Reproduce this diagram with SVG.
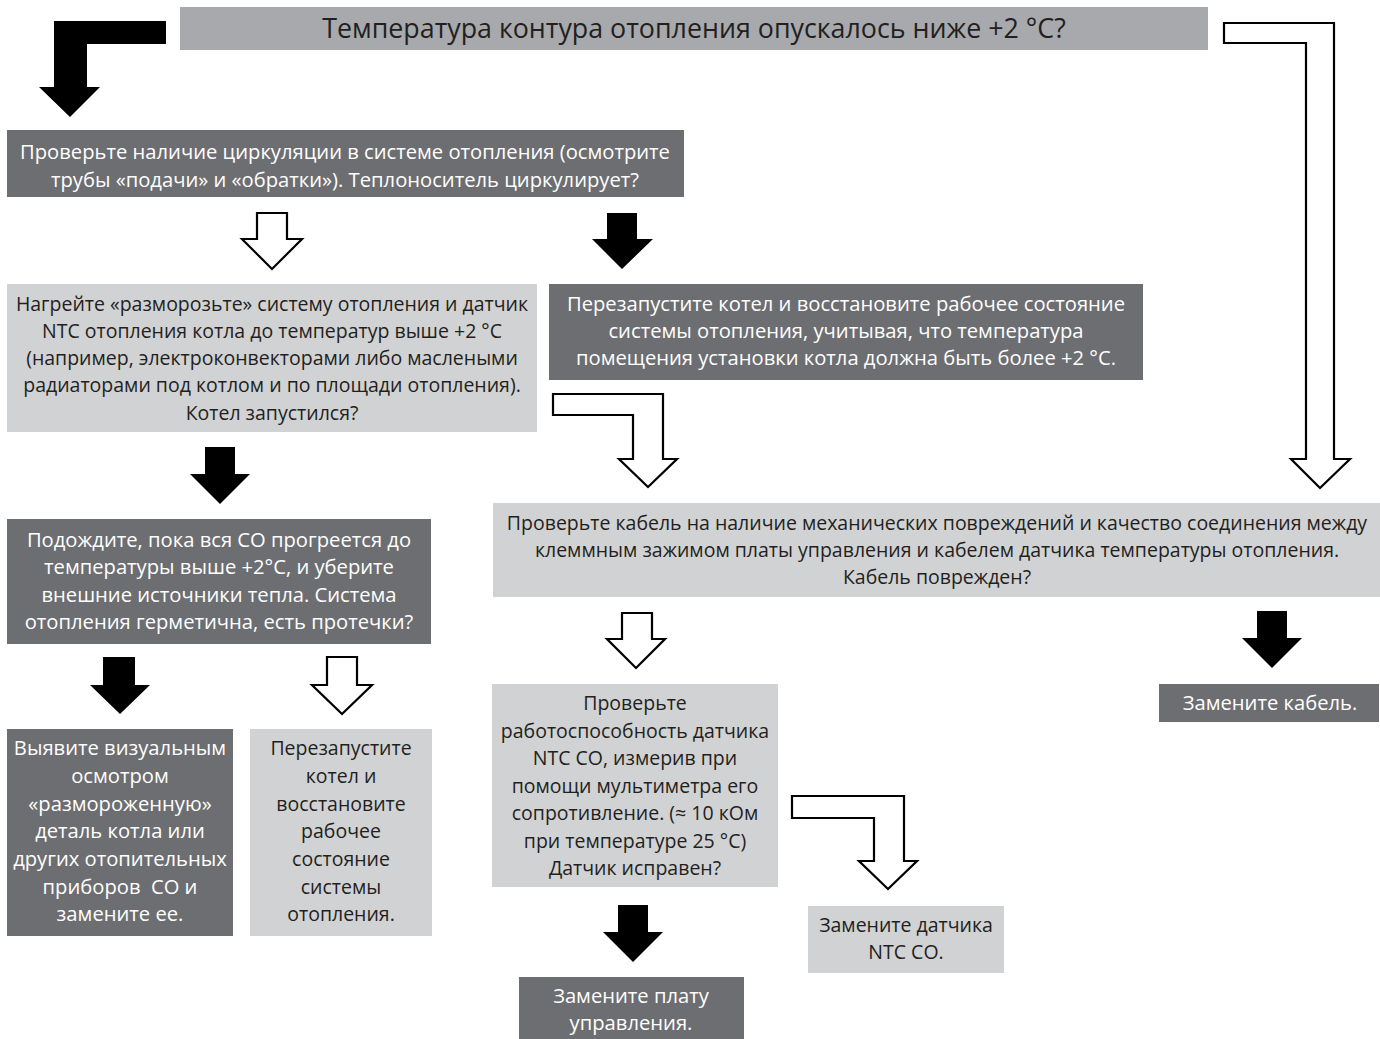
<svg xmlns="http://www.w3.org/2000/svg" width="1380" height="1039" viewBox="0 0 1380 1039">
<style>
.dk{fill:#6d6e71}
.lt{fill:#d1d2d4}
.tp{fill:#a7a9ac}
text{font-family:"Open Sans","Noto Sans",sans-serif;font-size:19.5px;text-anchor:middle}
.w{fill:#ffffff;font-size:20.2px}
.b{fill:#231f20}
.ttl{font-size:26.8px}
.fa{fill:#000000}
.oa{fill:#ffffff;stroke:#000000;stroke-width:2.2;stroke-linejoin:miter}
</style>
<rect width="1380" height="1039" fill="#ffffff"/>
<g id="connectors">
<path class="fa" d="M166,21 H54 V87 H39 L70,117 L100,87 H87 V44 H166 Z"/>
<path class="oa" d="M1224,23 H1334 V459 H1350 L1320,488 L1291,459 H1306 V43 H1224 Z"/>
<path class="oa" d="M257,213 H287 V239 H302 L272,269 L242,239 H257 Z"/>
<path class="fa" d="M607,213 H637 V239 H653 L622,269 L592,239 H607 Z"/>
<path class="oa" d="M553,394 H663 V459 H677 L648,487 L619,459 H633 V415 H553 Z"/>
<path class="fa" d="M205,447 H235 V474 H250 L220,504 L190,474 H205 Z"/>
<path class="fa" d="M103,657 H135 V685 H150 L120,714 L90,685 H103 Z"/>
<path class="oa" d="M327,657 H357 V685 H372 L342,714 L312,685 H327 Z"/>
<path class="oa" d="M622,613 H652 V639 H665 L636,668 L607,639 H622 Z"/>
<path class="fa" d="M1257,611 H1287 V638 H1302 L1272,668 L1242,638 H1257 Z"/>
<path class="oa" d="M792,796 H904 V861 H917 L888,889 L859,861 H874 V818 H792 Z"/>
<path class="fa" d="M618,905 H648 V932 H663 L633,962 L603,932 H618 Z"/>
</g>
<g id="n0">
<rect class="tp" x="180" y="7" width="1028" height="43"/>
<text class="b ttl" x="694" y="38">Температура контура отопления опускалось ниже +2 °C?</text>
</g>
<g id="n1">
<rect class="dk" x="7" y="130" width="677" height="67"/>
<text class="w" x="345" y="159">Проверьте наличие циркуляции в системе отопления (осмотрите</text>
<text class="w" x="345" y="187">трубы «подачи» и «обратки»). Теплоноситель циркулирует?</text>
</g>
<g id="n2">
<rect class="lt" x="7" y="284" width="530" height="148"/>
<text class="b" x="272" y="311">Нагрейте «разморозьте» систему отопления и датчик</text>
<text class="b" x="272" y="338">NTC отопления котла до температур выше +2 °C</text>
<text class="b" x="272" y="365">(например, электроконвекторами либо маслеными</text>
<text class="b" x="272" y="392">радиаторами под котлом и по площади отопления).</text>
<text class="b" x="272" y="420">Котел запустился?</text>
</g>
<g id="n3">
<rect class="dk" x="549" y="284" width="594" height="96"/>
<text class="w" x="846" y="311">Перезапустите котел и восстановите рабочее состояние</text>
<text class="w" x="846" y="338">системы отопления, учитывая, что температура</text>
<text class="w" x="846" y="365">помещения установки котла должна быть более +2 °C.</text>
</g>
<g id="n4">
<rect class="dk" x="7" y="519" width="424" height="125"/>
<text class="w" x="219" y="547">Подождите, пока вся СО прогреется до</text>
<text class="w" x="219" y="574">температуры выше +2°C, и уберите</text>
<text class="w" x="219" y="602">внешние источники тепла. Система</text>
<text class="w" x="219" y="629">отопления герметична, есть протечки?</text>
</g>
<g id="n5">
<rect class="lt" x="493" y="503" width="887" height="94"/>
<text class="b" x="937" y="530">Проверьте кабель на наличие механических повреждений и качество соединения между</text>
<text class="b" x="937" y="557">клеммным зажимом платы управления и кабелем датчика температуры отопления.</text>
<text class="b" x="937" y="584">Кабель поврежден?</text>
</g>
<g id="n6">
<rect class="dk" x="7" y="729" width="226" height="207"/>
<text class="w" x="120" y="755">Выявите визуальным</text>
<text class="w" x="120" y="783">осмотром</text>
<text class="w" x="120" y="811">«размороженную»</text>
<text class="w" x="120" y="838">деталь котла или</text>
<text class="w" x="120" y="866">других отопительных</text>
<text class="w" x="120" y="894" xml:space="preserve">приборов  СО и</text>
<text class="w" x="120" y="921">замените ее.</text>
</g>
<g id="n7">
<rect class="lt" x="250" y="729" width="182" height="207"/>
<text class="b" x="341" y="755">Перезапустите</text>
<text class="b" x="341" y="783">котел и</text>
<text class="b" x="341" y="811">восстановите</text>
<text class="b" x="341" y="838">рабочее</text>
<text class="b" x="341" y="866">состояние</text>
<text class="b" x="341" y="894">системы</text>
<text class="b" x="341" y="921">отопления.</text>
</g>
<g id="n8">
<rect class="lt" x="492" y="684" width="286" height="203"/>
<text class="b" x="635" y="710">Проверьте</text>
<text class="b" x="635" y="738">работоспособность датчика</text>
<text class="b" x="635" y="765">NTC CO, измерив при</text>
<text class="b" x="635" y="793">помощи мультиметра его</text>
<text class="b" x="635" y="820">сопротивление. (≈ 10 кОм</text>
<text class="b" x="635" y="848">при температуре 25 °C)</text>
<text class="b" x="635" y="875">Датчик исправен?</text>
</g>
<g id="n9">
<rect class="lt" x="808" y="906" width="196" height="67"/>
<text class="b" x="906" y="932">Замените датчика</text>
<text class="b" x="906" y="959">NTC CO.</text>
</g>
<g id="n10">
<rect class="dk" x="519" y="977" width="225" height="62"/>
<text class="w" x="631" y="1003">Замените плату</text>
<text class="w" x="631" y="1030">управления.</text>
</g>
<g id="n11">
<rect class="dk" x="1159" y="684" width="220" height="38"/>
<text class="w" x="1270" y="710">Замените кабель.</text>
</g>
</svg>
